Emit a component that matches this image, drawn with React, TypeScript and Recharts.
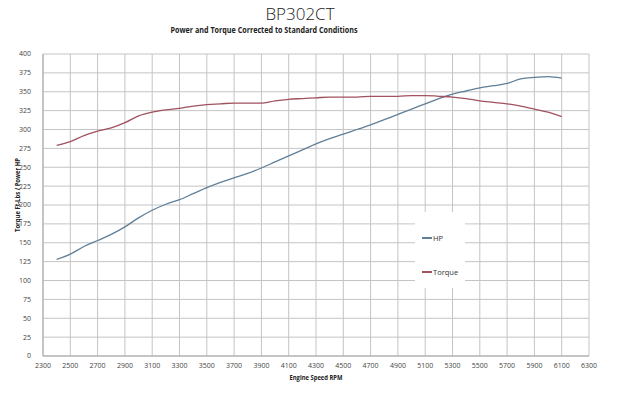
import React from "react";
import { LineChart, Line, XAxis, YAxis, CartesianGrid } from "recharts";

const rpm = [2400, 2500, 2600, 2700, 2800, 2900, 3000, 3100, 3200, 3300, 3400, 3500, 3600, 3700, 3800, 3900, 4000, 4100, 4200, 4300, 4400, 4500, 4600, 4700, 4800, 4900, 5000, 5100, 5200, 5300, 5400, 5500, 5600, 5700, 5800, 5900, 6000, 6100];
const hp = [128, 135, 145, 153, 161, 171, 183, 193, 201, 207, 215, 223, 230, 236, 242, 249, 257, 265, 273, 281, 288, 294, 300, 306, 313, 320, 327, 334, 341, 347, 351, 355, 358, 361, 367, 369, 370, 368];
const torque = [279, 284, 292, 298, 302, 309, 318, 323, 326, 328, 331, 333, 334, 335, 335, 335, 338, 340, 341, 342, 343, 343, 343, 344, 344, 344, 345, 345, 344, 343, 341, 338, 336, 334, 331, 327, 323, 317];
const xTicks = [2300, 2500, 2700, 2900, 3100, 3300, 3500, 3700, 3900, 4100, 4300, 4500, 4700, 4900, 5100, 5300, 5500, 5700, 5900, 6100, 6300];
const yTicks = [0, 25, 50, 75, 100, 125, 150, 175, 200, 225, 250, 275, 300, 325, 350, 375, 400];
const seriesNames = ["HP", "Torque"];

const data = rpm.map((r, i) => ({ rpm: r, HP: hp[i], Torque: torque[i] }));

const HP_COLOR = "#5f7f99";
const TQ_COLOR = "#a0525e";
const colors = [HP_COLOR, TQ_COLOR];
const FONT = "'Liberation Sans Narrow', 'Open Sans', Lato, sans-serif";

export default function App() {
  return (
    <div style={{ position: "absolute", left: 0, top: 0, width: 633, height: 394, background: "#fff" }}>
      <LineChart width={633} height={394} data={data} margin={{ top: 54, right: 44, bottom: 0, left: 0 }}>
        <CartesianGrid stroke="#c4c4c4" strokeWidth={1} horizontalValues={yTicks} verticalValues={xTicks} />
        <XAxis
          dataKey="rpm"
          type="number"
          domain={[2300, 6300]}
          ticks={xTicks}
          tickLine={false}
          axisLine={{ stroke: "#a8a8a8" }}
          height={38}
          tick={{ fontSize: 7, fill: "#444", fontFamily: FONT }}
          tickMargin={1}
          interval={0}
        />
        <YAxis
          type="number"
          domain={[0, 400]}
          ticks={yTicks}
          tickLine={false}
          axisLine={{ stroke: "#a8a8a8" }}
          width={43}
          tick={{ fontSize: 7, fill: "#444", fontFamily: FONT }}
          tickMargin={6}
          interval={0}
        />
        <Line type="monotone" dataKey="HP" stroke={HP_COLOR} strokeWidth={1.3} dot={false} isAnimationActive={false} />
        <Line type="monotone" dataKey="Torque" stroke={TQ_COLOR} strokeWidth={1.3} dot={false} isAnimationActive={false} />
      </LineChart>
      <div style={{ position: "absolute", left: 415, top: 212, width: 50, height: 76, background: "#fff", fontFamily: FONT, fontSize: 7.5, color: "#333" }}>
        {seriesNames.map((n, i) => (
          <div key={n} style={{ position: "absolute", left: 7, top: i === 0 ? 21 : 55, display: "flex", alignItems: "center", lineHeight: "10px" }}>
            <span style={{ display: "inline-block", width: 10, height: 1.3, background: colors[i], marginRight: 1 }} />
            <span>{n}</span>
          </div>
        ))}
      </div>
      <svg width={633} height={394} style={{ position: "absolute", left: 0, top: 0, pointerEvents: "none" }}>
        <text x={300} y={20} textAnchor="middle" fontSize={17} fontFamily="'Open Sans', Lato, sans-serif" fontWeight={300} fill="#222">
          BP302CT
        </text>
        <text x={264} y={33} textAnchor="middle" fontSize={8.5} fontWeight="bold" fontFamily={FONT} fill="#222" textLength={187} lengthAdjust="spacingAndGlyphs">
          Power and Torque Corrected to Standard Conditions
        </text>
        <text x={316} y={380} textAnchor="middle" fontSize={7} fontWeight="bold" fontFamily={FONT} fill="#222" textLength={53} lengthAdjust="spacingAndGlyphs">
          Engine Speed RPM
        </text>
        <text x={0} y={0} transform="translate(20,195) rotate(-90)" textAnchor="middle" fontSize={7} fontWeight="bold" fontFamily={FONT} fill="#222" textLength={74} lengthAdjust="spacingAndGlyphs">
          Torque Ft-Lbs / Power HP
        </text>
      </svg>
    </div>
  );
}
